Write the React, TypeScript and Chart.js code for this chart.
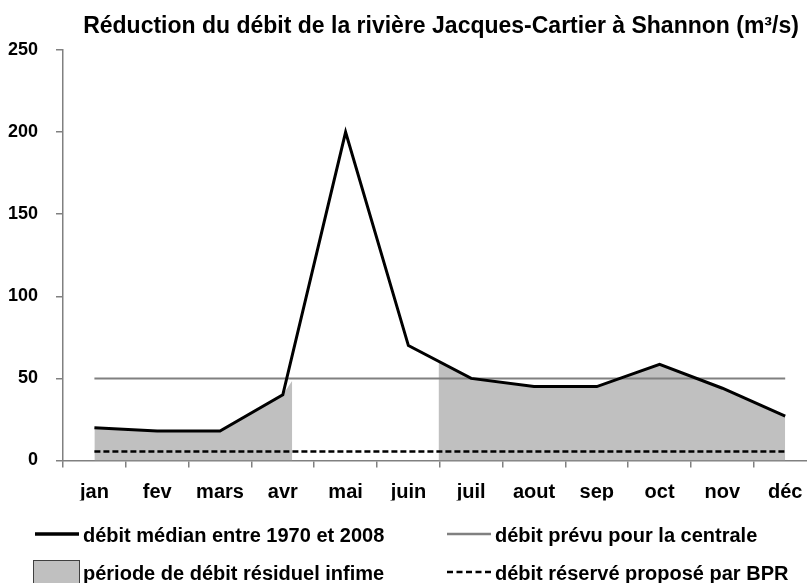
import React, { useEffect, useRef } from "react";
import { Chart, registerables } from "chart.js";

Chart.register(...registerables);

const months = ["jan", "fev", "mars", "avr", "mai", "juin", "juil", "aout", "sep", "oct", "nov", "déc"];
const medianFlow = [20, 18, 18, 40, 200, 70, 50, 45, 45, 58.5, 44, 27];
const plannedFlow = [50, 50, 50, 50, 50, 50, 50, 50, 50, 50, 50, 50];
const reservedFlow = [5.5, 5.5, 5.5, 5.5, 5.5, 5.5, 5.5, 5.5, 5.5, 5.5, 5.5, 5.5];
const lowPeriod1X = [0, 1, 2, 3, 3.15];
const lowPeriod1Y = [20, 18, 18, 40, 48.5];
const lowPeriod2X = [5.48, 6, 7, 8, 9, 10, 11];
const lowPeriod2Y = [60.5, 50, 45, 45, 58.5, 44, 27];
const yMax = 250;
const yStep = 50;

const TITLE = "Réduction du débit de la rivière Jacques-Cartier à Shannon (m³/s)";
const LEGEND = [
  "débit médian entre 1970 et 2008",
  "débit prévu pour la centrale",
  "période de débit résiduel infime",
  "débit réservé proposé par BPR",
];

const FONT = "'Liberation Sans', Arial, sans-serif";
const GRAY_FILL = "#c0c0c0";
const AXIS = "#808080";

const overlay = {
  id: "overlay",
  afterDraw(chart: any) {
    const ctx = chart.ctx;
    ctx.save();
    ctx.fillStyle = "#000";
    ctx.textBaseline = "alphabetic";
    ctx.font = `bold 23px ${FONT}`;
    ctx.textAlign = "center";
    ctx.fillText(TITLE, 441, 33);

    ctx.font = `bold 20px ${FONT}`;
    ctx.textAlign = "left";
    // row 1
    ctx.strokeStyle = "#000";
    ctx.lineWidth = 3.5;
    ctx.beginPath();
    ctx.moveTo(35, 534);
    ctx.lineTo(79, 534);
    ctx.stroke();
    ctx.fillText(LEGEND[0], 83, 541.5);

    ctx.strokeStyle = AXIS;
    ctx.lineWidth = 2.5;
    ctx.beginPath();
    ctx.moveTo(447, 534);
    ctx.lineTo(491, 534);
    ctx.stroke();
    ctx.fillText(LEGEND[1], 495, 541.5);

    // row 2
    ctx.fillStyle = GRAY_FILL;
    ctx.fillRect(33, 560, 47, 30);
    ctx.strokeStyle = "#404040";
    ctx.lineWidth = 1;
    ctx.strokeRect(33.5, 560.5, 46, 30);
    ctx.fillStyle = "#000";
    ctx.fillText(LEGEND[2], 83, 580);

    ctx.strokeStyle = "#000";
    ctx.lineWidth = 2.5;
    ctx.setLineDash([6, 3.5]);
    ctx.beginPath();
    ctx.moveTo(447, 572);
    ctx.lineTo(493, 572);
    ctx.stroke();
    ctx.setLineDash([]);
    ctx.fillText(LEGEND[3], 495, 580);
    ctx.restore();
  },
};

export default function App() {
  const ref = useRef<HTMLCanvasElement | null>(null);
  useEffect(() => {
    if (!ref.current) return;
    const zip = (xs: number[], ys: number[]) => xs.map((x, i) => ({ x, y: ys[i] }));
    const chart = new Chart(ref.current, {
      type: "line",
      data: {
        labels: months,
        datasets: [
          {
            label: LEGEND[0],
            data: medianFlow,
            borderColor: "#000",
            borderWidth: 3,
            pointRadius: 0,
            tension: 0,
            borderJoinStyle: "miter",
            order: 0,
          },
          {
            label: LEGEND[3],
            data: reservedFlow,
            borderColor: "#000",
            borderWidth: 2.5,
            borderDash: [6, 3],
            pointRadius: 0,
            order: 1,
          },
          {
            label: LEGEND[1],
            data: plannedFlow,
            borderColor: AXIS,
            borderWidth: 2,
            pointRadius: 0,
            order: 2,
          },
          {
            label: LEGEND[2],
            data: zip(lowPeriod1X, lowPeriod1Y) as any,
            xAxisID: "xf",
            backgroundColor: GRAY_FILL,
            borderWidth: 0,
            borderColor: "rgba(0,0,0,0)",
            pointRadius: 0,
            fill: "origin",
            order: 3,
          },
          {
            label: LEGEND[2] + " 2",
            data: zip(lowPeriod2X, lowPeriod2Y) as any,
            xAxisID: "xf",
            backgroundColor: GRAY_FILL,
            borderWidth: 0,
            borderColor: "rgba(0,0,0,0)",
            pointRadius: 0,
            fill: "origin",
            order: 3,
          },
        ],
      },
      options: {
        animation: false,
        responsive: false,
        events: [],
        layout: { padding: { top: 50, left: 0, right: 13.4, bottom: 82.5 } },
        plugins: { legend: { display: false }, title: { display: false }, tooltip: { enabled: false } },
        scales: {
          x: {
            type: "category",
            offset: true,
            grid: { offset: true, drawOnChartArea: false, drawTicks: true, tickLength: 7, color: AXIS, lineWidth: 1.5 },
            border: { display: true, color: AXIS, width: 1.5 },
            ticks: { color: "#000", font: { family: FONT, size: 20, weight: "bold" }, padding: 13, maxRotation: 0, autoSkip: false },
            afterFit: (s: any) => { s.height = 40; },
          },
          xf: {
            type: "linear",
            display: false,
            min: -0.5,
            max: 11.5,
          },
          y: {
            min: 0,
            max: yMax,
            ticks: { stepSize: yStep, color: "#000", font: { family: FONT, size: 18, weight: "bold" }, padding: 18 },
            grid: { drawOnChartArea: false, drawTicks: true, tickLength: 7, color: AXIS, lineWidth: 1.5 },
            border: { display: true, color: AXIS, width: 1.5 },
            afterFit: (s: any) => { s.width = 63; },
          },
        },
      },
      plugins: [overlay],
    });
    return () => chart.destroy();
  }, []);
  return (
    <div style={{ position: "fixed", left: 0, top: 0, width: 807, height: 583, overflow: "hidden", background: "#fff" }}>
      <canvas ref={ref} width={830} height={583} style={{ display: "block" }} />
    </div>
  );
}
